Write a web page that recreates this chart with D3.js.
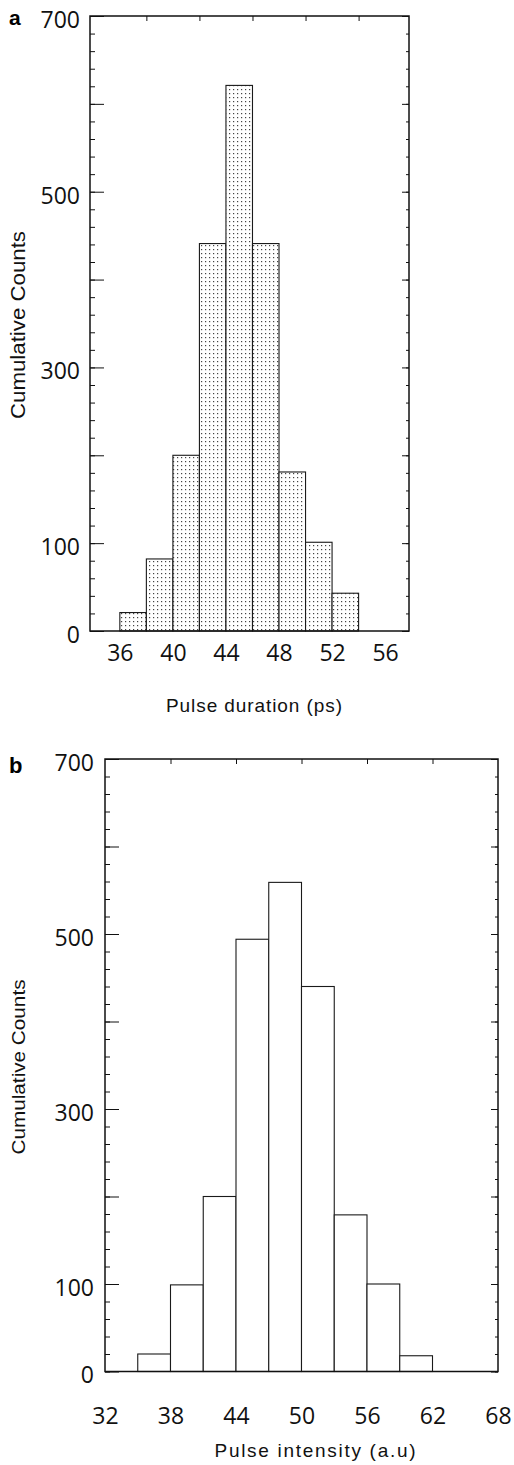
<!DOCTYPE html>
<html>
<head>
<meta charset="utf-8">
<script src="https://cdn.jsdelivr.net/npm/d3@7"></script>
<style>
    body { margin: 0; background: #fff; }
    svg { display: block; }
    .tick line { stroke: #111; }
    .domain { display: none; }
</style>
</head>
<body>
<div id="chart"></div>
<script>
// panel a: pulse duration histogram (bin left edges, width 2 ps)
var durationBins = [36, 38, 40, 42, 44, 46, 48, 50, 52];
var durationCounts = [21, 82, 200, 441, 621, 441, 181, 101, 43];
var durationTicks = [36, 40, 44, 48, 52, 56];
var durationTopTicks = [38, 42, 46, 50, 54];

// panel b: pulse intensity histogram (bin left edges, width 3 a.u)
var intensityBins = [35, 38, 41, 44, 47, 50, 53, 56, 59];
var intensityCounts = [20, 99, 200, 494, 559, 440, 179, 100, 18];
var intensityTicks = [32, 38, 44, 50, 56, 62, 68];
var intensityTopTicks = [38, 44, 50, 56, 62];

var countLabels = [0, 100, 300, 500, 700];

var hist = {
    draw: function(svg, args) {
        let x = d3.scaleLinear().domain(args.xDomain).range([args.left, args.right]);
        let y = d3.scaleLinear().domain([0, 700]).range([args.bottom, args.top]);
        let g = svg.append("g");

        // bars
        let data = args.bins.map(function(b, i) { return [b, args.counts[i]]; });
        g.selectAll("rect.bar")
            .data(data)
            .enter().append("rect")
            .attr("class", "bar")
            .attr("x", function(d) { return x(d[0]); })
            .attr("y", function(d) { return y(d[1]); })
            .attr("width", function(d) { return x(d[0] + args.binWidth) - x(d[0]); })
            .attr("height", function(d) { return y(0) - y(d[1]); })
            .attr("fill", args.fill)
            .attr("stroke", "#1a1a1a")
            .attr("stroke-width", 1.1);

        // inward ticks on the left and right sides
        let ticks = [
            [d3.axisRight(y).tickValues(d3.range(0, 701, 100)).tickSize(14), args.left],
            [d3.axisRight(y).tickValues(d3.range(0, 701, 20)).tickSize(5), args.left],
            [d3.axisLeft(y).tickValues(d3.range(0, 701, 100)).tickSize(7), args.right],
            [d3.axisLeft(y).tickValues(d3.range(0, 701, 20)).tickSize(3), args.right]
        ];
        ticks.forEach(function(t) {
            g.append("g")
                .attr("transform", "translate(" + t[1] + ",0)")
                .call(t[0].tickFormat(""));
        });
        g.append("g")
            .attr("transform", "translate(0," + args.top + ")")
            .call(d3.axisBottom(x).tickValues(args.topTicks).tickSize(5).tickFormat(""));

        // tick labels
        let yLab = g.append("g")
            .attr("transform", "translate(" + args.left + ",0)")
            .call(d3.axisLeft(y).tickValues(countLabels).tickSize(0).tickPadding(args.yPad));
        let xLab = g.append("g")
            .attr("transform", "translate(0," + args.bottom + ")")
            .call(d3.axisBottom(x).tickValues(args.xTicks).tickSize(0).tickPadding(args.xPad));
        [yLab, xLab].forEach(function(a) {
            a.selectAll("text")
                .attr("fill", "#111")
                .style("font-family", "'Open Sans', sans-serif")
                .style("font-size", "23px");
        });
        yLab.selectAll("text").attr("y", 4);

        // frame
        g.append("rect")
            .attr("x", args.left).attr("y", args.top)
            .attr("width", args.right - args.left)
            .attr("height", args.bottom - args.top)
            .attr("fill", "none")
            .attr("stroke", "#111")
            .attr("stroke-width", 1.5);

        // titles
        g.append("text")
            .attr("x", 9).attr("y", args.letterY)
            .style("font-family", "'Liberation Sans', Arial, sans-serif")
            .style("font-weight", "bold")
            .style("font-size", args.letterSize + "px")
            .text(args.letter);
        g.append("text")
            .attr("transform", "translate(25," + args.yTitleY + ") rotate(-90)")
            .attr("text-anchor", "middle")
            .attr("textLength", args.yTitleLen)
            .attr("lengthAdjust", "spacingAndGlyphs")
            .style("font-family", "'Liberation Sans', Arial, sans-serif")
            .style("font-size", args.yTitleSize + "px")
            .attr("fill", "#111")
            .text("Cumulative Counts");
        g.append("text")
            .attr("x", args.xTitleX).attr("y", args.xTitleY)
            .attr("text-anchor", "middle")
            .attr("textLength", args.xTitleLen)
            .attr("lengthAdjust", "spacing")
            .style("font-family", "'Liberation Sans', Arial, sans-serif")
            .style("font-size", "19px")
            .attr("fill", "#111")
            .text(args.xTitle);
    }
};

var svg = d3.select("#chart").append("svg")
    .attr("width", 514)
    .attr("height", 1465);

// stipple fill for panel a
var pat = svg.append("defs").append("pattern")
    .attr("id", "stipple")
    .attr("patternUnits", "userSpaceOnUse")
    .attr("width", 4).attr("height", 4);
pat.append("rect").attr("width", 4).attr("height", 4).attr("fill", "#fff");
pat.append("rect").attr("x", 1).attr("y", 1).attr("width", 1.2).attr("height", 1.2).attr("fill", "#444");

hist.draw(svg, {
    bins: durationBins, counts: durationCounts, binWidth: 2,
    xDomain: [33.75, 57.8], xTicks: durationTicks, topTicks: durationTopTicks,
    left: 90, right: 409, top: 16, bottom: 631,
    fill: "url(#stipple)", yPad: 10, xPad: 14,
    letter: "a", letterY: 25, letterSize: 21,
    yTitleY: 325, yTitleLen: 188, yTitleSize: 20,
    xTitle: "Pulse duration (ps)", xTitleX: 254, xTitleY: 712, xTitleLen: 176
});

hist.draw(svg, {
    bins: intensityBins, counts: intensityCounts, binWidth: 3,
    xDomain: [32, 68], xTicks: intensityTicks, topTicks: intensityTopTicks,
    left: 105, right: 498, top: 759, bottom: 1371.5,
    fill: "#fff", yPad: 11, xPad: 36,
    letter: "b", letterY: 773, letterSize: 22,
    yTitleY: 1067, yTitleLen: 175, yTitleSize: 18,
    xTitle: "Pulse intensity (a.u)", xTitleX: 315, xTitleY: 1457, xTitleLen: 201
});
</script>
</body>
</html>
